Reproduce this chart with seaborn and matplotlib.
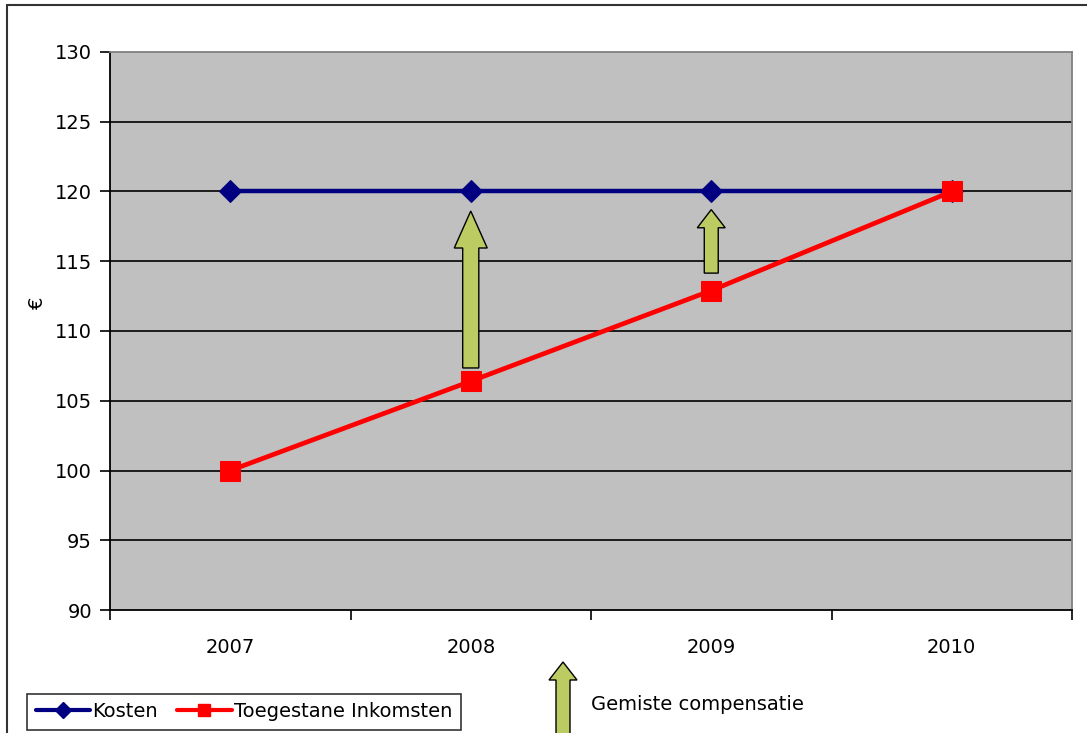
import matplotlib
matplotlib.use("Agg")
import matplotlib.pyplot as plt
from matplotlib.patches import FancyArrow, Polygon
from matplotlib.lines import Line2D
import seaborn as sns
import pandas as pd

# Data
jaren = ["2007", "2008", "2009", "2010"]
kosten = [120, 120, 120, 120]
inkomsten = [100, 106.4, 112.9, 120]
y_ticks = [90, 95, 100, 105, 110, 115, 120, 125, 130]

# Missed-compensation arrows: (category index, start value, end value)
pijl_jaren = [1, 2]
pijl_start = [107.35, 114.15]
pijl_eind = [118.6, 118.7]

sns.set_theme(style="white")
plt.rcParams["font.family"] = ["DejaVu Sans"]
plt.rcParams["text.color"] = "black"
plt.rcParams["xtick.color"] = "black"
plt.rcParams["ytick.color"] = "black"

W, H = 1087, 733
fig = plt.figure(figsize=(W / 100, H / 100), dpi=100)
ax = fig.add_axes([110 / W, 1 - 610 / H, (1072 - 110) / W, (610 - 52) / H])
ax.set_facecolor("#c0c0c0")

pos = list(range(len(jaren)))
df = pd.DataFrame({"pos": pos, "Kosten": kosten, "Toegestane Inkomsten": inkomsten})

# horizontal gridlines
for v in y_ticks[1:-1]:
    ax.axhline(v, color="black", lw=1.2, zorder=1)

sns.lineplot(data=df, x="pos", y="Kosten", ax=ax, color="#000080", lw=3.2,
             marker="D", markersize=11, markeredgecolor="#000080", legend=False, zorder=3)
sns.lineplot(data=df, x="pos", y="Toegestane Inkomsten", ax=ax, color="#ff0000", lw=3.4,
             marker="s", markersize=14, markeredgecolor="#ff0000", legend=False, zorder=4)

arrow_fc = "#bccb62"
head_w = [0.137, 0.116]
shaft_w = [0.067, 0.058]
head_l = [2.65, 1.3]
for i, (xi, s, e) in enumerate(zip(pijl_jaren, pijl_start, pijl_eind)):
    ar = FancyArrow(xi, s, 0, e - s, width=shaft_w[i], head_width=head_w[i],
                    head_length=head_l[i], length_includes_head=True,
                    facecolor=arrow_fc, edgecolor="black", lw=1.0, zorder=5)
    ax.add_patch(ar)

ax.set_xlim(-0.5, len(jaren) - 0.5)
ax.set_ylim(90, 130)
ax.set_yticks(y_ticks)
ax.set_yticklabels([str(v) for v in y_ticks], fontsize=14)
ax.set_xticks(pos)
ax.set_xticklabels(jaren, fontsize=14)
ax.set_xticks([p - 0.5 for p in pos] + [len(jaren) - 0.5], minor=True)
ax.tick_params(axis="x", which="major", bottom=True, length=0, pad=20, labelcolor="black")
ax.tick_params(axis="x", which="minor", bottom=True, length=7, width=1.2, color="black", direction="out")
ax.tick_params(axis="y", which="major", left=True, length=7, width=1.2, color="black",
               direction="out", pad=6, labelcolor="black")
ax.set_xlabel("")
ax.set_ylabel("€", fontsize=14, color="black")
ax.yaxis.set_label_coords(-0.066, 0.55)

for side in ["left", "bottom"]:
    ax.spines[side].set_color("black")
    ax.spines[side].set_linewidth(1.3)
for side in ["top", "right"]:
    ax.spines[side].set_color("#808080")
    ax.spines[side].set_linewidth(1.3)

# Outer chart frame
fig.add_artist(Line2D([7 / W, 7 / W], [0, 1 - 5 / H], color="#333333", lw=1.5))
fig.add_artist(Line2D([7 / W, 1], [1 - 5 / H, 1 - 5 / H], color="#333333", lw=1.5))

# Legend
handles = [
    Line2D([], [], color="#000080", lw=3, marker="D", markersize=8, markeredgecolor="#000080"),
    Line2D([], [], color="#ff0000", lw=3, marker="s", markersize=9, markeredgecolor="#ff0000"),
]
leg = fig.legend(handles, ["Kosten", "Toegestane Inkomsten"], ncol=2,
                 loc="lower left", bbox_to_anchor=(27 / W, 3 / H),
                 fontsize=14, frameon=True, fancybox=False, handlelength=2.8,
                 handletextpad=0.1, columnspacing=1.0, borderpad=0.45,
                 borderaxespad=0)
leg.get_frame().set_edgecolor("black")
leg.get_frame().set_linewidth(1.2)

# Arrow key below the plot
key_ax = fig.add_axes([0, 0, 1, 1], facecolor="none")
key_ax.set_xlim(0, W)
key_ax.set_ylim(H, 0)
key_ax.axis("off")
key = Polygon([(556, 740), (556, 680), (549, 680), (563, 662), (577, 680),
               (570, 680), (570, 740)], closed=True,
              facecolor=arrow_fc, edgecolor="black", lw=1.0, clip_on=True)
key_ax.add_patch(key)
key_ax.text(591, 704, "Gemiste compensatie", fontsize=14, va="center", ha="left")

fig.savefig("out.png", dpi=100)
